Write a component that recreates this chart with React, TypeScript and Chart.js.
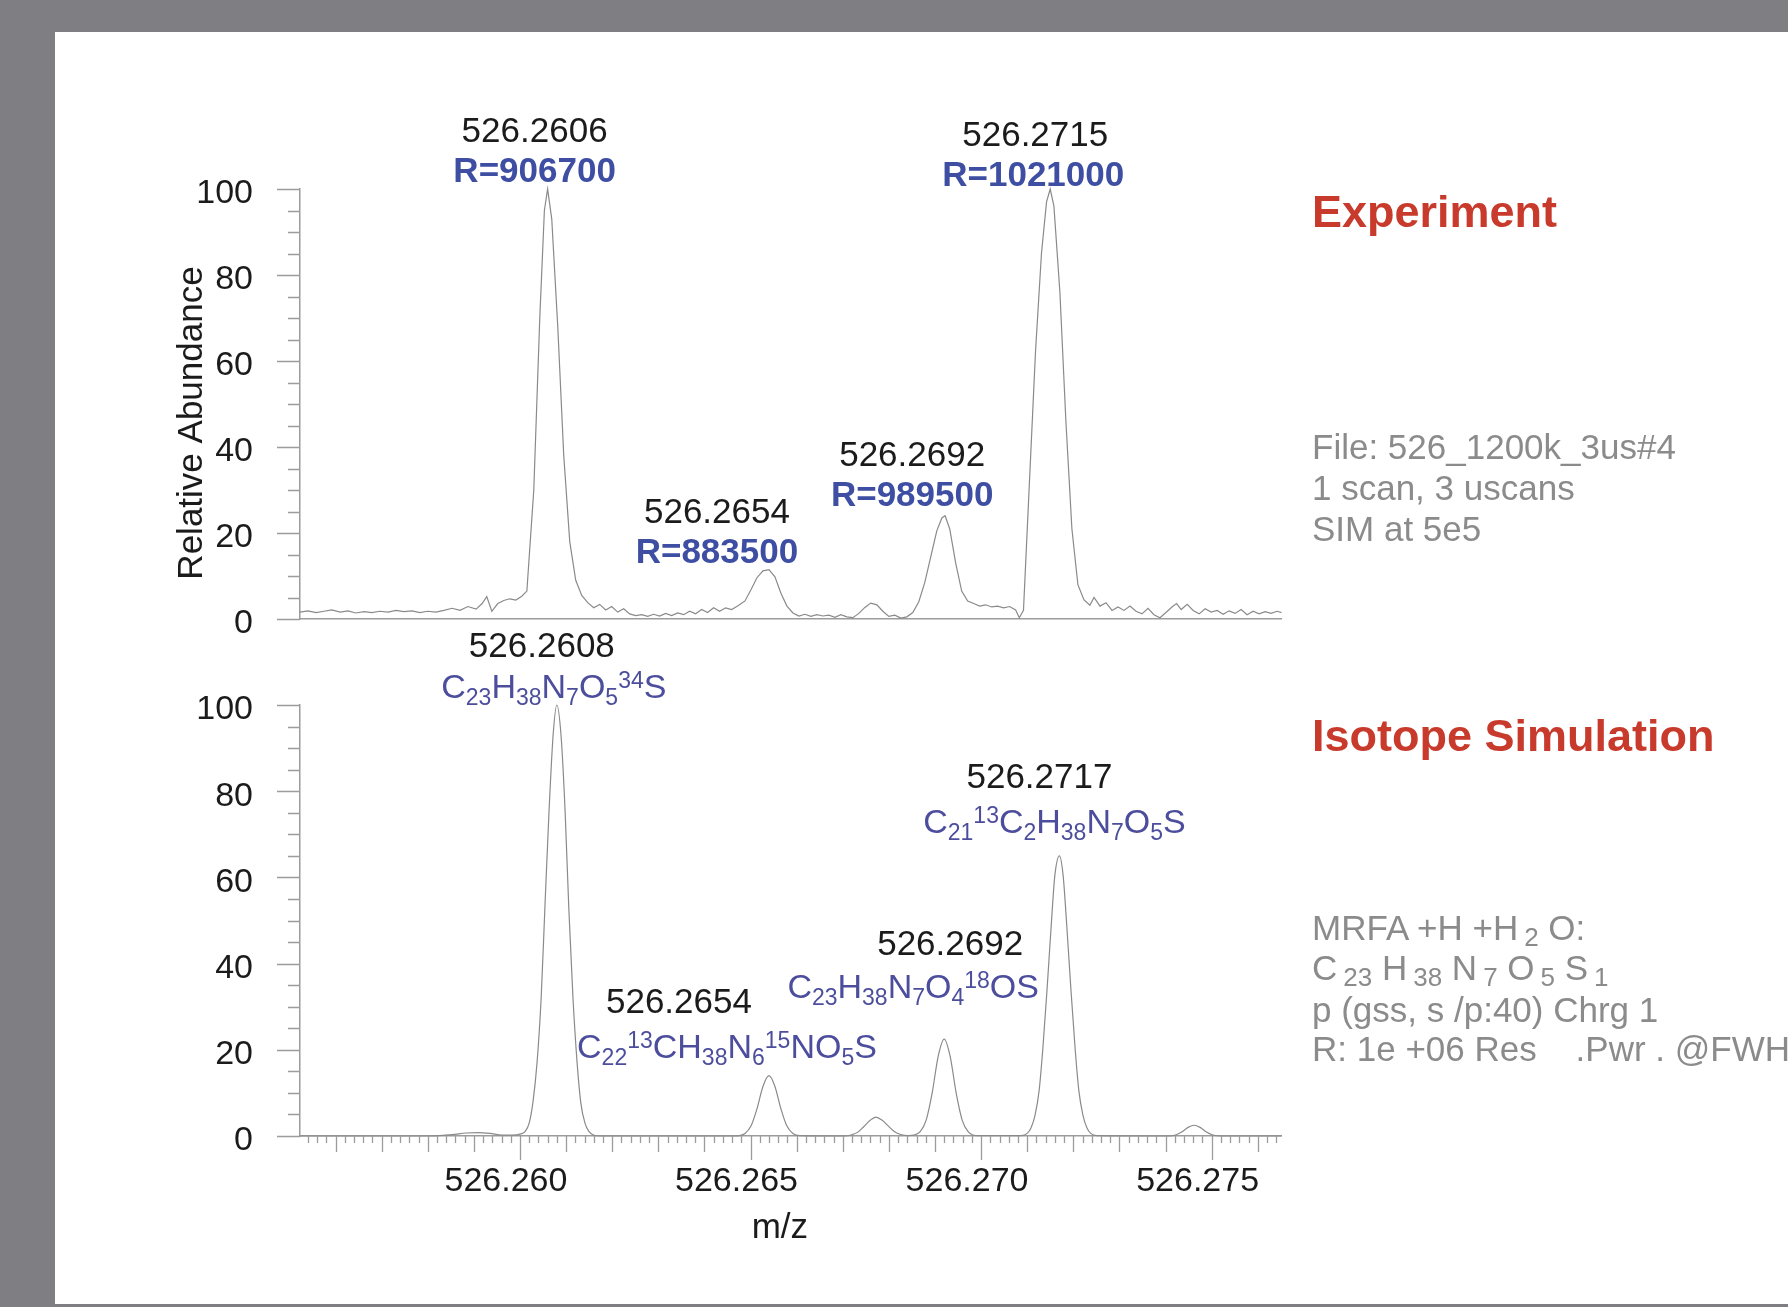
import React, { useEffect, useRef } from 'react';
import { Chart, registerables } from 'chart.js';

Chart.register(...registerables);

const FONT = "'Liberation Sans', Arial, Helvetica, sans-serif";

// ---------- DATA ----------
// Experimental profile spectrum (m/z, relative abundance %)
const expMz = [
  526.25523, 526.2554, 526.25558, 526.25575, 526.25592, 526.2561, 526.25627, 526.25644, 526.25662, 526.25679,
  526.25696, 526.25714, 526.25731, 526.25748, 526.25766, 526.25783, 526.258, 526.25818, 526.25835, 526.25853,
  526.2587, 526.25887, 526.25905, 526.25918, 526.25928, 526.25939, 526.25952, 526.25965, 526.25978, 526.25991,
  526.26004, 526.26015, 526.2603, 526.26043, 526.26053, 526.2606, 526.26069, 526.26082, 526.26095, 526.26108,
  526.26121, 526.26134, 526.26147, 526.2616, 526.26173, 526.26186, 526.26199, 526.26212, 526.26225, 526.26238,
  526.26251, 526.26264, 526.26277, 526.2629, 526.26303, 526.26316, 526.26329, 526.26342, 526.26355, 526.26368,
  526.26381, 526.26394, 526.26407, 526.2642, 526.26433, 526.26446, 526.26459, 526.26472, 526.26488, 526.26501,
  526.26514, 526.26527, 526.2654, 526.26553, 526.26566, 526.26579, 526.26592, 526.26605, 526.26618, 526.26631,
  526.26644, 526.26657, 526.2667, 526.26683, 526.26696, 526.26709, 526.26722, 526.26735, 526.26748, 526.26761,
  526.26774, 526.26787, 526.268, 526.26813, 526.26826, 526.26839, 526.26852, 526.26865, 526.26878, 526.26891,
  526.26904, 526.26915, 526.26922, 526.26932, 526.26945, 526.26958, 526.26971, 526.26984, 526.26997, 526.2701,
  526.27023, 526.27036, 526.27049, 526.27062, 526.27075, 526.27083, 526.27092, 526.27105, 526.27118, 526.27131,
  526.27142, 526.2715, 526.27158, 526.27171, 526.27184, 526.27197, 526.2721, 526.27223, 526.27236, 526.27245,
  526.27258, 526.27271, 526.27284, 526.27297, 526.2731, 526.27323, 526.27336, 526.27349, 526.27362, 526.27375,
  526.27388, 526.27401, 526.27414, 526.27424, 526.27434, 526.27447, 526.2746, 526.27473, 526.27486, 526.27499,
  526.27512, 526.27525, 526.27538, 526.27551, 526.27564, 526.27577, 526.2759, 526.27603, 526.27616, 526.27629,
  526.27642, 526.27652,
];
const expAbundance = [
  1.6, 1.9, 1.5, 1.8, 2.1, 1.6, 1.9, 1.4, 1.7, 1.5,
  1.8, 1.6, 2.0, 1.7, 1.9, 1.5, 1.8, 1.6, 2.0, 2.5,
  2.0, 2.9, 2.3, 3.6, 5.2, 1.8, 3.6, 4.3, 4.7, 4.4,
  5.3, 6.5, 30, 70, 95, 100, 93, 68, 38, 18,
  9, 5.5, 3.8, 2.6, 3.4, 2.1, 2.9, 1.6, 2.4, 1.2,
  0.8, 1.0, 0.6, 1.1, 0.7, 1.3, 0.8, 1.4, 1.0, 1.8,
  1.2, 2.2, 1.5, 2.6, 1.8, 2.6, 2.2, 3.0, 4.2, 6.8,
  9.6, 11.2, 11.5, 9.8, 6.0, 3.0, 1.4, 0.7, 1.1, 0.6,
  1.0, 0.7, 0.9, 0.4, 1.0, 0.5, 0.3, 1.3, 2.7, 3.7,
  3.3, 1.8, 0.6, 0.9, 0.2, 0.5, 1.5, 4.0, 8.5, 14.5,
  20.5, 23.5, 24, 21, 13, 6.5, 4.2, 3.6, 3.0, 3.3,
  2.8, 3.0, 2.6, 2.9, 2.1, 0.3, 2.0, 32, 62, 85,
  97, 100, 96, 76, 46, 21, 8, 4.5, 3.2, 5.0,
  3.0, 3.8, 2.0, 2.8, 2.0, 3.0, 1.8, 1.2, 2.5, 1.0,
  0.3, 1.5, 2.8, 3.6, 2.2, 3.4, 2.0, 1.2, 2.4, 1.6,
  2.0, 1.1, 1.9, 1.3, 2.2, 1.0, 1.8, 1.2, 1.7, 1.3,
  1.8, 1.5,
];

// Isotope simulation profile (m/z, relative abundance %)
const simMz = [
  526.25523, 526.25805, 526.25853, 526.25883, 526.25909, 526.25935, 526.25961, 526.25983, 526.26002, 526.26011,
  526.2602, 526.26028, 526.26037, 526.26046, 526.26054, 526.26063, 526.26072, 526.2608, 526.26089, 526.26098,
  526.26106, 526.26115, 526.26124, 526.26132, 526.26141, 526.2615, 526.26158, 526.26174, 526.26466, 526.26488,
  526.26501, 526.26514, 526.26527, 526.2654, 526.26553, 526.26566, 526.26579, 526.26592, 526.26607, 526.26705,
  526.2672, 526.26733, 526.26746, 526.26759, 526.26772, 526.26785, 526.26798, 526.26811, 526.26824, 526.26842,
  526.26855, 526.26868, 526.26881, 526.26894, 526.26907, 526.2692, 526.26933, 526.26946, 526.26959, 526.26972,
  526.26989, 526.27087, 526.271, 526.27108, 526.27117, 526.27126, 526.27134, 526.27143, 526.27152, 526.2716,
  526.2717, 526.27178, 526.27186, 526.27195, 526.27204, 526.27212, 526.27221, 526.2723, 526.27238, 526.27251,
  526.2741, 526.27423, 526.27436, 526.27449, 526.27462, 526.27475, 526.27488, 526.27501, 526.2752, 526.27652,
];
const simAbundance = [
  0, 0, 0.3, 0.7, 0.8, 0.6, 0.2, 0.2, 0.5, 1.0,
  3.0, 7.7, 16.9, 32, 52.7, 75.2, 93.1, 100, 93.1, 75.2,
  52.7, 32, 16.9, 7.7, 3.0, 1.0, 0.3, 0, 0, 0.6,
  2.3, 6.3, 11.5, 14, 11.5, 6.3, 2.3, 0.6, 0.1, 0,
  0.3, 0.9, 2.2, 3.6, 4.4, 3.7, 2.4, 1.1, 0.4, 0.1,
  0.2, 1.0, 3.7, 10, 18.5, 22.5, 18.5, 10, 3.7, 1.0,
  0.1, 0.1, 0.6, 1.8, 4.8, 10.6, 20.3, 33.8, 48.6, 60.4,
  65, 60.4, 48.6, 33.8, 20.3, 10.6, 4.8, 1.8, 0.6, 0.1,
  0, 0.3, 1.0, 2.0, 2.5, 2.0, 1.0, 0.3, 0, 0,
];

// Peak annotations
const expPeakMz = [526.2606, 526.2654, 526.2692, 526.2715];
const expPeakAbundance = [100, 11.5, 24, 100];
const expPeakLabels = ['526.2606', '526.2654', '526.2692', '526.2715'];
const expResolution = ['R=906700', 'R=883500', 'R=989500', 'R=1021000'];

const simPeakMz = [526.2608, 526.2654, 526.2692, 526.2717];
const simPeakAbundance = [100, 14, 22.5, 65];
const simPeakLabels = ['526.2608', '526.2654', '526.2692', '526.2717'];
const simFormulas = [
  'C_{23}H_{38}N_{7}O_{5}^{34}S',
  'C_{22}^{13}CH_{38}N_{6}^{15}NO_{5}S',
  'C_{23}H_{38}N_{7}O_{4}^{18}OS',
  'C_{21}^{13}C_{2}H_{38}N_{7}O_{5}S',
];

// Axes
const X_MIN = 526.25523;
const X_MAX = 526.27652;
const xTickValues = [526.26, 526.265, 526.27, 526.275];
const yTickValues = [0, 20, 40, 60, 80, 100];
const yAxisTitle = 'Relative Abundance';
const xAxisTitle = 'm/z';

// Side panel text
const expTitle = 'Experiment';
const expInfo = ['File: 526_1200k_3us#4', '1 scan, 3 uscans', 'SIM at 5e5'];
const simTitle = 'Isotope Simulation';
const simInfo = ['MRFA +H +H_{2} O:', 'C_{23} H_{38} N_{7} O_{5} S_{1}', 'p (gss, s /p:40) Chrg 1', 'R: 1e +06 Res    .Pwr . @FWH'];

// ---------- STYLE / LAYOUT (pixel offsets: [numDx, numDy, secondDx, secondDy]) ----------
const expLabelOffsets = [
  [-13, -60, -13, -20],
  [-52, -59, -52, -19],
  [-32, -62, -32, -22],
  [-15, -56, -17, -16],
];
const simLabelOffsets = [
  [-15, -61, -3, -19],
  [-90, -75, -42, -30],
  [6, -97, -31, -53],
  [-20, -80, -5, -35],
];

const AXIS_COLOR = '#9c9c9c';
const TRACE_COLOR = '#8a8a8a';
const TEXT_COLOR = '#1b1b1b';
const RES_COLOR = '#3d4ea3';
const FORMULA_COLOR = '#4c4e9d';
const RED = '#c83a2b';
const GRAY_TEXT = '#8b8b8b';

type Seg = { t: string; s?: 'sub' | 'sup' };

function parseRich(str: string): Seg[] {
  const out: Seg[] = [];
  const re = /_\{([^}]*)\}|\^\{([^}]*)\}|([^_^]+|[_^])/g;
  let m: RegExpExecArray | null;
  while ((m = re.exec(str))) {
    if (m[1] !== undefined) out.push({ t: m[1], s: 'sub' });
    else if (m[2] !== undefined) out.push({ t: m[2], s: 'sup' });
    else out.push({ t: m[3] });
  }
  return out;
}

function drawRich(ctx: CanvasRenderingContext2D, str: string, cx: number, cy: number, size: number, weight: string, color: string) {
  const segs = parseRich(str);
  const small = Math.round(size * 0.67);
  let w = 0;
  for (const sg of segs) {
    ctx.font = `${weight} ${sg.s ? small : size}px ${FONT}`;
    w += ctx.measureText(sg.t).width;
  }
  let x = cx - w / 2;
  const base = cy + size * 0.36;
  ctx.textAlign = 'left';
  ctx.textBaseline = 'alphabetic';
  ctx.fillStyle = color;
  for (const sg of segs) {
    ctx.font = `${weight} ${sg.s ? small : size}px ${FONT}`;
    const dy = sg.s === 'sub' ? size * 0.2 : sg.s === 'sup' ? -size * 0.3 : 0;
    ctx.fillText(sg.t, x, base + dy);
    x += ctx.measureText(sg.t).width;
  }
}

function makeDecorPlugin(isSim: boolean) {
  return {
    id: 'decor',
    afterDraw(chart: any) {
      const { ctx, chartArea: a, scales } = chart;
      const xs = scales.x;
      const ys = scales.y;
      ctx.save();
      // y ticks (major every 20, minor every 5)
      ctx.strokeStyle = AXIS_COLOR;
      ctx.lineWidth = 1.3;
      ctx.beginPath();
      for (let v = 0; v <= 100; v += 5) {
        const py = Math.round(ys.getPixelForValue(v)) + 0.5;
        const len = v % 20 === 0 ? 23 : 12;
        ctx.moveTo(a.left - len, py);
        ctx.lineTo(a.left, py);
      }
      ctx.stroke();
      // x ticks (only lower panel)
      if (isSim) {
        ctx.beginPath();
        const k0 = Math.ceil(X_MIN * 10000);
        const k1 = Math.floor(X_MAX * 10000);
        for (let k = k0; k <= k1; k++) {
          if (k % 2 !== 0) continue;
          const px = Math.round(xs.getPixelForValue(k / 10000)) + 0.5;
          const len = k % 50 === 0 ? 24 : k % 10 === 0 ? 16 : 7;
          ctx.moveTo(px, a.bottom);
          ctx.lineTo(px, a.bottom + len);
        }
        ctx.stroke();
      }
      // peak labels
      const mzs = isSim ? simPeakMz : expPeakMz;
      const abs = isSim ? simPeakAbundance : expPeakAbundance;
      const nums = isSim ? simPeakLabels : expPeakLabels;
      const offs = isSim ? simLabelOffsets : expLabelOffsets;
      for (let i = 0; i < mzs.length; i++) {
        const px = xs.getPixelForValue(mzs[i]);
        const py = ys.getPixelForValue(abs[i]);
        const o = offs[i];
        drawRich(ctx, nums[i], px + o[0], py + o[1], 35, 'normal', TEXT_COLOR);
        if (isSim) drawRich(ctx, simFormulas[i], px + o[2], py + o[3], 34, 'normal', FORMULA_COLOR);
        else drawRich(ctx, expResolution[i], px + o[2], py + o[3], 35, 'bold', RES_COLOR);
      }
      // axis titles
      ctx.fillStyle = TEXT_COLOR;
      ctx.textAlign = 'center';
      ctx.textBaseline = 'middle';
      if (!isSim) {
        ctx.save();
        ctx.translate(a.left - 108, (a.top + a.bottom) / 2 + 19);
        ctx.rotate(-Math.PI / 2);
        ctx.font = `35px ${FONT}`;
        ctx.fillText(yAxisTitle, 0, 0);
        ctx.restore();
      } else {
        ctx.font = `35px ${FONT}`;
        ctx.fillText(xAxisTitle, (a.left + a.right) / 2 - 11, a.bottom + 92);
      }
      ctx.restore();
    },
  };
}

function makeConfig(isSim: boolean): any {
  const mz = isSim ? simMz : expMz;
  const ab = isSim ? simAbundance : expAbundance;
  const canvasH = isSim ? 747 : 700;
  const areaTop = isSim ? 145 : 189;
  const areaBottom = isSim ? 576 : 619;
  return {
    type: 'line',
    data: {
      datasets: [
        {
          data: mz.map((m, i) => ({ x: m, y: ab[i] })),
          borderColor: TRACE_COLOR,
          borderWidth: 1.2,
          pointRadius: 0,
          fill: false,
          tension: 0,
          cubicInterpolationMode: isSim ? 'monotone' : 'default',
          clip: { left: 0, right: 0, top: 4, bottom: 2 },
        },
      ],
    },
    options: {
      responsive: false,
      animation: false,
      devicePixelRatio: 1,
      events: [],
      layout: { padding: { left: 0, right: 1788 - 1281.7, top: areaTop, bottom: 0 } },
      plugins: { legend: { display: false }, tooltip: { enabled: false }, title: { display: false } },
      scales: {
        x: {
          type: 'linear',
          min: X_MIN,
          max: X_MAX,
          afterFit: (s: any) => {
            s.height = canvasH - areaBottom;
          },
          afterBuildTicks: (s: any) => {
            s.ticks = xTickValues.map((v) => ({ value: v }));
          },
          grid: { display: false, drawTicks: false, tickLength: 0 },
          border: { display: true, color: AXIS_COLOR, width: 1.5 },
          ticks: {
            display: isSim,
            autoSkip: false,
            maxRotation: 0,
            padding: 25,
            labelOffset: -14,
            color: TEXT_COLOR,
            font: { family: FONT, size: 34 },
            callback: (v: any) => Number(v).toFixed(3),
          },
        },
        y: {
          type: 'linear',
          min: 0,
          max: 100,
          afterFit: (s: any) => {
            s.width = 300;
          },
          afterBuildTicks: (s: any) => {
            s.ticks = yTickValues.map((v) => ({ value: v }));
          },
          grid: { display: false, drawTicks: false, tickLength: 0 },
          border: { display: true, color: AXIS_COLOR, width: 1.5 },
          ticks: {
            padding: 47,
            labelOffset: 5,
            color: TEXT_COLOR,
            font: { family: FONT, size: 34 },
            callback: (v: any) => String(v),
          },
        },
      },
    },
    plugins: [makeDecorPlugin(isSim)],
  };
}

function RichLine({ text }: { text: string }) {
  const segs = parseRich(text);
  return (
    <>
      {segs.map((s, i) =>
        s.s === 'sub' ? (
          <span key={i} style={{ fontSize: 26, verticalAlign: '-6px', marginLeft: 6, lineHeight: 0 }}>
            {s.t}
          </span>
        ) : (
          <span key={i}>{s.t}</span>
        )
      )}
    </>
  );
}

export default function App() {
  const c1 = useRef<HTMLCanvasElement>(null);
  const c2 = useRef<HTMLCanvasElement>(null);

  useEffect(() => {
    const ch1 = new Chart(c1.current as HTMLCanvasElement, makeConfig(false));
    const ch2 = new Chart(c2.current as HTMLCanvasElement, makeConfig(true));
    return () => {
      ch1.destroy();
      ch2.destroy();
    };
  }, []);

  const titleStyle: React.CSSProperties = {
    position: 'absolute',
    left: 1312,
    fontFamily: FONT,
    fontWeight: 'bold',
    fontSize: 45,
    lineHeight: '54px',
    color: RED,
    whiteSpace: 'pre',
  };
  const infoStyle: React.CSSProperties = {
    position: 'absolute',
    left: 1312,
    fontFamily: FONT,
    fontSize: 35,
    lineHeight: '41px',
    color: GRAY_TEXT,
    whiteSpace: 'pre',
  };
  const expInfoTops = [426, 467, 508];
  const simInfoTops = [907, 947, 989, 1028];

  return (
    <div
      style={{
        position: 'fixed',
        left: 0,
        top: 0,
        width: 1788,
        height: 1307,
        background: '#7f7e83',
        overflow: 'hidden',
      }}
    >
      <div style={{ position: 'absolute', left: 55, top: 32, width: 1733, height: 1272, background: '#ffffff' }} />
      <canvas ref={c1} width={1788} height={700} style={{ position: 'absolute', left: 0, top: 0, width: 1788, height: 700 }} />
      <canvas ref={c2} width={1788} height={747} style={{ position: 'absolute', left: 0, top: 560, width: 1788, height: 747 }} />
      <div style={{ ...titleStyle, top: 185 }}>{expTitle}</div>
      {expInfo.map((t, i) => (
        <div key={'e' + i} style={{ ...infoStyle, top: expInfoTops[i] }}>
          <RichLine text={t} />
        </div>
      ))}
      <div style={{ ...titleStyle, top: 709 }}>{simTitle}</div>
      {simInfo.map((t, i) => (
        <div key={'s' + i} style={{ ...infoStyle, top: simInfoTops[i] }}>
          <RichLine text={t} />
        </div>
      ))}
    </div>
  );
}
